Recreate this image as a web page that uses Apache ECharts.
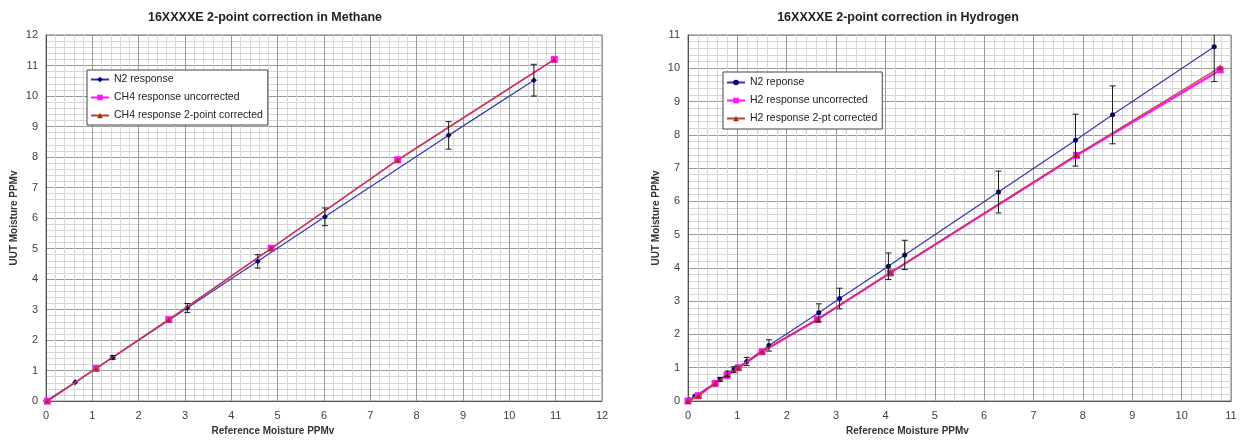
<!DOCTYPE html>
<html>
<head>
<meta charset="utf-8">
<script src="https://cdn.jsdelivr.net/npm/echarts@6/dist/echarts.min.js"></script>
<style>
html,body{margin:0;padding:0;background:#fff;}
#chart{width:1241px;height:441px;}
</style>
</head>
<body>
<div id="chart"></div>
<script>
// ---------- Methane chart data ----------
const methaneTitle = '16XXXXE 2-point correction in Methane';
const methaneN2Ref = [0, 0.63, 1.44, 3.05, 4.57, 6.02, 8.69, 10.53];
const methaneN2 = [0, 0.62, 1.43, 3.05, 4.58, 6.04, 8.71, 10.52];
const methaneN2Err = [0, 0, 0.06, 0.15, 0.22, 0.29, 0.45, 0.52];
const methaneCH4Ref = [0.03, 1.08, 2.65, 4.86, 7.59, 10.97];
const methaneCH4Uncorr = [0, 1.07, 2.67, 5.01, 7.91, 11.20];
const methaneCH4Corr = [0, 1.07, 2.67, 5.00, 7.90, 11.19];
const methaneNames = ['N2 response', 'CH4 response uncorrected', 'CH4 response 2-point corrected'];

// ---------- Hydrogen chart data ----------
const hydrogenTitle = '16XXXXE 2-point correction in Hydrogen';
const h2N2Ref = [0, 0.03, 0.14, 0.65, 0.80, 0.93, 1.19, 1.64, 2.65, 3.07, 4.06, 4.39, 6.29, 7.85, 8.60, 10.66];
const h2N2 = [0, 0.04, 0.14, 0.65, 0.82, 0.94, 1.19, 1.67, 2.65, 3.08, 4.05, 4.39, 6.28, 7.84, 8.60, 10.65];
const h2N2Err = [0, 0, 0, 0.06, 0.08, 0.09, 0.12, 0.17, 0.27, 0.31, 0.40, 0.44, 0.63, 0.78, 0.87, 1.05];
const h2Ref = [0, 0.21, 0.55, 0.79, 1.02, 1.50, 2.62, 4.10, 7.87, 10.78];
const h2Uncorr = [0, 0.16, 0.53, 0.77, 1.00, 1.48, 2.45, 3.85, 7.38, 9.95];
const h2Corr = [0, 0.16, 0.53, 0.78, 1.00, 1.49, 2.45, 3.86, 7.40, 10.03];
const hydrogenNames = ['N2 reponse', 'H2 response uncorrected', 'H2 response 2-pt corrected'];

// ---------- Axis labels ----------
const xAxisName = 'Reference Moisture PPMv';
const yAxisName = 'UUT Moisture PPMv';
const methaneAxisMax = 12;
const hydrogenAxisMax = 11;

const FONT = 'Liberation Sans, Arial, sans-serif';
const zip = (xs, ys) => xs.map((x, i) => [x, ys[i]]);
const zipErr = (xs, ys, es) => xs.map((x, i) => [x, ys[i], es[i]]).filter(d => d[2] > 0);

const N2_LINE = '#3535b0';
const N2_MARK = '#00007a';
const PINK = '#ff14ff';
const RED = '#b8432f';
const RED_MARK = '#a8300f';

function errRender(params, api) {
  const x = api.value(0), y = api.value(1), e = api.value(2);
  const top = api.coord([x, y + e]);
  const bot = api.coord([x, y - e]);
  const cap = 3;
  const cs = params.coordSys;
  return {
    type: 'group',
    clipPath: {type: 'rect', shape: {x: cs.x, y: cs.y, width: cs.width, height: cs.height}},
    children: [
      {type: 'line', shape: {x1: top[0], y1: top[1], x2: bot[0], y2: bot[1]}, style: {stroke: '#1a1a1a', lineWidth: 1}},
      {type: 'line', shape: {x1: top[0] - cap, y1: top[1], x2: top[0] + cap, y2: top[1]}, style: {stroke: '#1a1a1a', lineWidth: 1}},
      {type: 'line', shape: {x1: bot[0] - cap, y1: bot[1], x2: bot[0] + cap, y2: bot[1]}, style: {stroke: '#1a1a1a', lineWidth: 1}}
    ]
  };
}

function makeXAxis(idx, max, padRight) {
  return {
    type: 'value', gridIndex: idx, min: 0, max: max, interval: 1,
    name: xAxisName, nameLocation: 'middle', nameGap: 22,
    nameTextStyle: {fontFamily: FONT, fontSize: 10, fontWeight: 'bold', color: '#333', padding: [0, padRight, 0, 0]},
    axisLine: {show: true, lineStyle: {color: '#555', width: 1}},
    axisTick: {show: false},
    axisLabel: {fontFamily: FONT, fontSize: 11, color: '#404040', margin: 9},
    splitLine: {show: true, lineStyle: {color: '#9a9a9a', width: 1}},
    minorTick: {show: false, splitNumber: 5},
    minorSplitLine: {show: true, lineStyle: {color: '#d6d6d6', width: 1}}
  };
}
function makeYAxis(idx, max) {
  return {
    type: 'value', gridIndex: idx, min: 0, max: max, interval: 1,
    name: yAxisName, nameLocation: 'middle', nameGap: 27,
    nameTextStyle: {fontFamily: FONT, fontSize: 10, fontWeight: 'bold', color: '#333'},
    axisLine: {show: true, lineStyle: {color: '#555', width: 1}},
    axisTick: {show: false},
    axisLabel: {fontFamily: FONT, fontSize: 11, color: '#404040', margin: 8},
    splitLine: {show: true, lineStyle: {color: '#9a9a9a', width: 1}},
    minorTick: {show: false, splitNumber: 5},
    minorSplitLine: {show: true, lineStyle: {color: '#d6d6d6', width: 1}}
  };
}

function lineSeries(name, data, gi, color, markColor, symbol, size, width, z) {
  return {
    type: 'line', name: name, xAxisIndex: gi, yAxisIndex: gi, data: data,
    symbol: symbol, symbolSize: size, showSymbol: true, z: z,
    lineStyle: {color: color, width: width},
    itemStyle: {color: markColor, borderWidth: 0},
    animation: false, clip: true
  };
}

const legendText = {fontFamily: FONT, fontSize: 10.5, color: '#222'};

const chart = echarts.init(document.getElementById('chart'), null, {renderer: 'canvas'});
chart.setOption({
  backgroundColor: '#fff',
  animation: false,
  title: [
    {text: methaneTitle, left: 265, top: 11, textAlign: 'center', padding: 0,
     textStyle: {fontFamily: FONT, fontSize: 12.5, fontWeight: 'bold', color: '#222'}},
    {text: hydrogenTitle, left: 898, top: 11, textAlign: 'center', padding: 0,
     textStyle: {fontFamily: FONT, fontSize: 12.5, fontWeight: 'bold', color: '#222'}}
  ],
  grid: [
    {left: 46, top: 35, width: 556, height: 370, show: true, borderColor: '#777', borderWidth: 1, backgroundColor: 'transparent'},
    {left: 688, top: 35, width: 543, height: 366, show: true, borderColor: '#777', borderWidth: 1, backgroundColor: 'transparent'}
  ],
  xAxis: [makeXAxis(0, methaneAxisMax, 102), makeXAxis(1, hydrogenAxisMax, 104)],
  yAxis: [makeYAxis(0, methaneAxisMax), makeYAxis(1, hydrogenAxisMax)],
  legend: [
    {data: methaneNames, orient: 'vertical', left: 87, top: 70, itemGap: 7, itemWidth: 18, itemHeight: 7,
     padding: [4, 5, 4, 3], backgroundColor: '#fff', borderColor: '#444', borderWidth: 1, borderRadius: 0,
     textStyle: legendText},
    {data: hydrogenNames, orient: 'vertical', left: 723, top: 72, itemGap: 7, itemWidth: 18, itemHeight: 7,
     padding: [5, 5, 5, 3], backgroundColor: '#fff', borderColor: '#444', borderWidth: 1, borderRadius: 0,
     textStyle: legendText}
  ],
  series: [
    // Methane
    lineSeries(methaneNames[0], zip(methaneN2Ref, methaneN2), 0, N2_LINE, N2_MARK, 'diamond', 6, 1.2, 3),
    lineSeries(methaneNames[1], zip(methaneCH4Ref, methaneCH4Uncorr), 0, PINK, PINK, 'rect', 7, 1.5, 4),
    lineSeries(methaneNames[2], zip(methaneCH4Ref, methaneCH4Corr), 0, RED, RED_MARK, 'triangle', 5, 1.3, 5),
    {type: 'custom', name: 'err-methane', xAxisIndex: 0, yAxisIndex: 0, renderItem: errRender,
     data: zipErr(methaneN2Ref, methaneN2, methaneN2Err), z: 6, silent: true, animation: false},
    // Hydrogen
    lineSeries(hydrogenNames[0], zip(h2N2Ref, h2N2), 1, N2_LINE, N2_MARK, 'circle', 5, 1.2, 3),
    lineSeries(hydrogenNames[1], zip(h2Ref, h2Uncorr), 1, PINK, PINK, 'rect', 7, 2.2, 4),
    lineSeries(hydrogenNames[2], zip(h2Ref, h2Corr), 1, RED, RED_MARK, 'triangle', 6, 1.2, 5),
    {type: 'custom', name: 'err-hydrogen', xAxisIndex: 1, yAxisIndex: 1, renderItem: errRender,
     data: zipErr(h2N2Ref, h2N2, h2N2Err), z: 6, silent: true, animation: false}
  ]
});
</script>
</body>
</html>
